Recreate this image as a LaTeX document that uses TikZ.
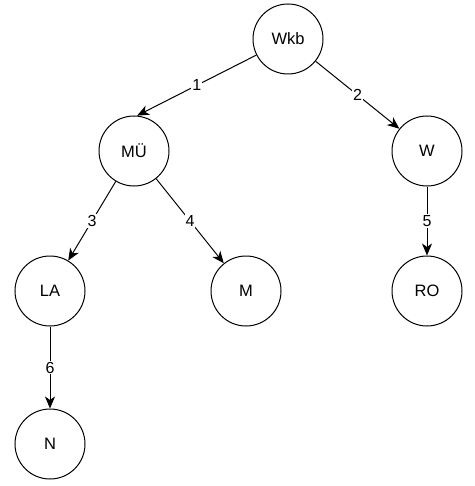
\documentclass[tikz,border=0pt]{standalone}
\usepackage{fontspec}
\setmainfont{Liberation Sans}
\usetikzlibrary{arrows.meta}

\tikzset{
  city/.style={draw, circle, line width=1pt, minimum size=70pt, inner sep=0pt, font=\fontsize{16.5}{19}\selectfont},
  hop/.style={line width=1pt, -{Stealth[length=12pt, width=10pt, inset=3.5pt]}},
  hoplabel/.style={fill=white, inner sep=1pt, font=\fontsize{16}{19}\selectfont}
}

\begin{document}
\begin{tikzpicture}[x=1pt,y=1pt,yscale=-1]
    \useasboundingbox (0,0) rectangle (474,486);

    %Shape: Circle
    \node [city] (wkb) at (288,39) {Wkb};
    \node [city] (mu) at (134,151) {MÜ};
    \node [city] (w) at (427,151) {W};
    \node [city] (la) at (50,291) {LA};
    \node [city] (m) at (246,291) {M};
    \node [city] (ro) at (427,291) {RO};
    \node [city] (n) at (50,444) {N};

    %Straight Lines
    \draw [hop] (wkb) -- (mu.85) node [hoplabel, midway] {1};
    \draw [hop] (wkb) -- (w) node [hoplabel, midway] {2};
    \draw [hop] (mu) -- (la) node [hoplabel, midway] {3};
    \draw [hop] (mu) -- (m) node [hoplabel, midway] {4};
    \draw [hop] (w) -- (ro) node [hoplabel, midway] {5};
    \draw [hop] (la) -- (n) node [hoplabel, midway] {6};

\end{tikzpicture}
\end{document}
